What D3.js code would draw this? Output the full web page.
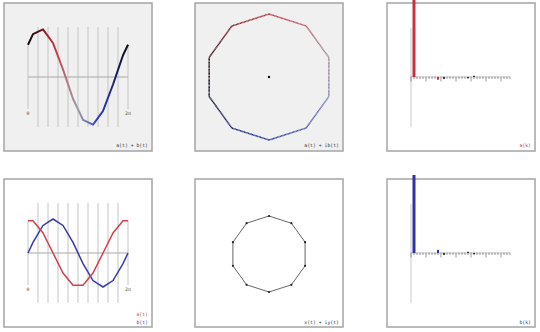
<!DOCTYPE html>
<html><head><meta charset="utf-8">
<script src="https://cdn.jsdelivr.net/npm/d3@7/dist/d3.min.js"></script>
<style>html,body{margin:0;padding:0;background:#fff;} svg{display:block;}</style>
</head><body>
<svg id="c" width="540" height="332"></svg>
<script>
// ---- data ----
// breakpoints (fraction of one period) of the piecewise-linear path
const tBreaks   = [0, 0.05, 0.15, 0.25, 0.35, 0.45, 0.55, 0.65, 0.75, 0.85, 0.95, 1];
const aValues   = [0.95, 0.95, 0.59, 0, -0.59, -0.95, -0.95, -0.59, 0, 0.59, 0.95, 0.95];
const bValues   = [0, 0.31, 0.81, 1, 0.81, 0.31, -0.31, -0.81, -1, -0.81, -0.31, 0];
const sumValues = [0.95, 1.26, 1.40, 1.0, 0.22, -0.64, -1.26, -1.40, -1.0, -0.22, 0.64, 0.95];
// sample instants (grid lines)
const sampleT   = [0, 0.1, 0.2, 0.3, 0.4, 0.5, 0.6, 0.7, 0.8, 0.9, 1];
const timeLabels = ["0", "2\u03c0"];
// sampled signal x(t) + i y(t)
const xSamples  = [0.95, 0.59, 0, -0.59, -0.95, -0.95, -0.59, 0, 0.59, 0.95];
const ySamples  = [0.31, 0.81, 1, 0.81, 0.31, -0.31, -0.81, -1, -0.81, -0.31];
// spectra
const specK     = [1, 9, 11, 19, 21];
const aSpec     = [1.0, -0.035, -0.025, -0.008, 0.006];
const bSpec     = [1.0, 0.04, -0.025, 0.008, -0.006];
const specTicks = d3.range(0, 34);
// colour along the period
const phaseT      = [0, 0.1, 0.2, 0.3, 0.4, 0.5, 0.6, 0.7, 0.8, 0.9, 1];
const phaseColors = ["#111111", "#4a1018", "#b0202f", "#c8404f", "#b07a84", "#9c9ca4",
                     "#6a72b4", "#2c38b4", "#2430a0", "#161a50", "#111111"];

// ---- drawing ----
const svg = d3.select("#c");
const defs = svg.append("defs");
const phaseColor = d3.scaleLinear().domain(phaseT).range(phaseColors).interpolate(d3.interpolateRgb);
const RED = "#d0404e", BLUE = "#3838b0";
const FONT = "'DejaVu Sans Mono', monospace";

function panel(x, y, fill) {
  svg.append("rect").attr("x", x).attr("y", y).attr("width", 148).attr("height", 148)
    .attr("fill", fill).attr("stroke", "#a4a4a4").attr("stroke-width", 1.5);
}
function label(x, y, txt, col) {
  svg.append("text").attr("x", x).attr("y", y).attr("text-anchor", "end")
    .attr("font-family", FONT).attr("font-size", 4.8).attr("fill", col).text(txt);
}

const P = [{x: 4, y: 3}, {x: 195, y: 3}, {x: 387, y: 3}, {x: 4, y: 179}, {x: 195, y: 179}, {x: 387, y: 179}];
panel(P[0].x, P[0].y, "#f0f0f0");
panel(P[1].x, P[1].y, "#f0f0f0");
panel(P[2].x, P[2].y, "#ffffff");
panel(P[3].x, P[3].y, "#ffffff");
panel(P[4].x, P[4].y, "#ffffff");
panel(P[5].x, P[5].y, "#ffffff");

// time-domain frame
function timeFrame(cy) {
  const x = d3.scaleLinear().domain([0, 1]).range([28, 128]);
  const y = d3.scaleLinear().domain([-1, 1]).range([cy + 34, cy - 34]);
  const g = svg.append("g");
  g.selectAll("line.grid").data(sampleT.slice(1, -1)).join("line")
    .attr("x1", d => x(d)).attr("x2", d => x(d))
    .attr("y1", cy - 50).attr("y2", cy + 50)
    .attr("stroke", "#c4c4c4").attr("stroke-width", 1);
  g.selectAll("line.end").data([0, 1]).join("line")
    .attr("x1", d => x(d)).attr("x2", d => x(d))
    .attr("y1", cy - 33).attr("y2", cy + 32)
    .attr("stroke", "#c4c4c4").attr("stroke-width", 1);
  g.append("line").attr("x1", x(0)).attr("x2", x(1)).attr("y1", cy).attr("y2", cy)
    .attr("stroke", "#a8a8a8").attr("stroke-width", 1);
  g.selectAll("text").data([0, 1]).join("text")
    .attr("x", d => x(d)).attr("y", cy + 38).attr("text-anchor", "middle")
    .attr("font-family", FONT).attr("font-size", 4.8).attr("fill", "#444")
    .text((d, i) => timeLabels[i]);
  return {x, y};
}

// Panel 1: a(t) + b(t)
{
  const {x, y} = timeFrame(77);
  const grad = defs.append("linearGradient").attr("id", "g1")
    .attr("gradientUnits", "userSpaceOnUse").attr("x1", x(0)).attr("x2", x(1)).attr("y1", 0).attr("y2", 0);
  grad.selectAll("stop").data(phaseT).join("stop")
    .attr("offset", d => d).attr("stop-color", (d, i) => phaseColors[i]);
  const line = d3.line().x((d, i) => x(tBreaks[i])).y(d => y(d));
  svg.append("path").attr("d", line(sumValues)).attr("fill", "none")
    .attr("stroke", "url(#g1)").attr("stroke-width", 2).attr("stroke-linejoin", "round");
  label(148, 147, "a(t) + b(t)", "#333");
}

// Panel 2: a(t) + i b(t)
{
  const cx = 269, cy = 77;
  const sx = d3.scaleLinear().domain([-1, 1]).range([cx + 63, cx - 63]);
  const sy = d3.scaleLinear().domain([-1, 1]).range([cy + 63, cy - 63]);
  const segs = d3.range(tBreaks.length - 1);
  segs.forEach(i => {
    const x1 = sx(aValues[i]), y1 = sy(bValues[i]), x2 = sx(aValues[i + 1]), y2 = sy(bValues[i + 1]);
    const id = "e" + i;
    const gr = defs.append("linearGradient").attr("id", id).attr("gradientUnits", "userSpaceOnUse")
      .attr("x1", x1).attr("y1", y1).attr("x2", x2 + 0.001).attr("y2", y2 + 0.001);
    gr.append("stop").attr("offset", 0).attr("stop-color", phaseColor(tBreaks[i]));
    gr.append("stop").attr("offset", 1).attr("stop-color", phaseColor(tBreaks[i + 1]));
    svg.append("line").attr("x1", x1).attr("y1", y1).attr("x2", x2).attr("y2", y2)
      .attr("stroke", `url(#${id})`).attr("stroke-width", 1.5)
      .attr("stroke-dasharray", "1.1 0.3").attr("stroke-linecap", "butt");
  });
  svg.append("circle").attr("cx", cx).attr("cy", cy).attr("r", 1.2).attr("fill", "#111");
  label(339, 147, "a(t) + ib(t)", "#333");
}

// spectrum panels
function spectrum(cy, values, col, name, ly) {
  const x = d3.scaleLinear().domain([0, 33]).range([411, 510]);
  const y = d3.scaleLinear().domain([0, 1]).range([cy, cy - 78]);
  const g = svg.append("g");
  g.append("line").attr("x1", 411).attr("x2", 411).attr("y1", cy - 49).attr("y2", cy + 50)
    .attr("stroke", "#c8c8c8").attr("stroke-width", 1);
  g.append("line").attr("x1", x(0)).attr("x2", x(33)).attr("y1", cy).attr("y2", cy)
    .attr("stroke", "#b8b8b8").attr("stroke-width", 0.8);
  g.selectAll("line.tk").data(specTicks).join("line")
    .attr("x1", d => x(d)).attr("x2", d => x(d))
    .attr("y1", cy - 0.5).attr("y2", d => cy + (d % 5 === 0 ? 4.5 : 2))
    .attr("stroke", "#6a6a6a").attr("stroke-width", 0.7);
  // main component
  g.append("line").attr("x1", x(specK[0])).attr("x2", x(specK[0]))
    .attr("y1", cy).attr("y2", y(values[0]))
    .attr("stroke", col).attr("stroke-width", 3);
  // small harmonics
  specK.slice(1).forEach((k, j) => {
    const v = values[j + 1];
    const h = Math.max(Math.abs(y(v) - cy), 1.2);
    g.append("rect").attr("x", x(k) - 1).attr("y", v >= 0 ? cy - h : cy).attr("width", 2).attr("height", h)
      .attr("fill", j === 0 ? col : "#333");
  });
  label(531, ly, name, col);
}
spectrum(77, aSpec, "#c83040", "a(k)", 147);
spectrum(253, bSpec, "#3030a8", "b(k)", 324);

// Panel 4: a(t), b(t)
{
  const {x, y} = timeFrame(253);
  const line = d3.line().x((d, i) => x(tBreaks[i])).y(d => y(d));
  svg.append("path").attr("d", line(bValues)).attr("fill", "none")
    .attr("stroke", BLUE).attr("stroke-width", 1.5);
  svg.append("path").attr("d", line(aValues)).attr("fill", "none")
    .attr("stroke", RED).attr("stroke-width", 1.5);
  label(148, 316, "a(t)", RED);
  label(148, 324, "b(t)", BLUE);
}

// Panel 5: x(t) + i y(t)
{
  const cx = 269, cy = 254;
  const sx = d3.scaleLinear().domain([-1, 1]).range([cx + 38, cx - 38]);
  const sy = d3.scaleLinear().domain([-1, 1]).range([cy + 38, cy - 38]);
  const pts = xSamples.map((v, i) => [sx(v), sy(ySamples[i])]);
  svg.append("path").attr("d", d3.line().curve(d3.curveLinearClosed)(pts))
    .attr("fill", "none").attr("stroke", "#555").attr("stroke-width", 0.9);
  svg.selectAll("circle.v").data(pts).join("circle")
    .attr("cx", d => d[0]).attr("cy", d => d[1]).attr("r", 1.1).attr("fill", "#222");
  label(339, 324, "x(t) + iy(t)", "#333");
}
</script>
</body></html>
